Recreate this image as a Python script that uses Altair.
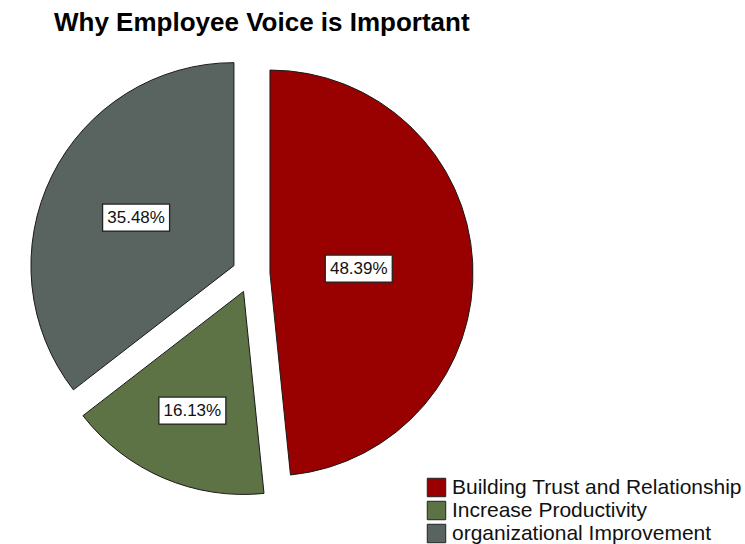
import altair as alt
import pandas as pd

# Survey answers and their shares of respondents (%)
categories = [
    "Building Trust and Relationship",
    "Increase Productivity",
    "organizational Improvement",
]
percents = [48.39, 16.13, 35.48]
colors = ["#990000", "#5d7346", "#59635f"]

# Layout (pixels)
W, H = 745, 544
CX, CY = 251, 274      # pie centre before exploding
R = 203                # pie radius
EXPLODE = 19           # distance each slice is pulled out along its bisector
BOX_W, BOX_H = 67, 27  # white label boxes
FONT = "Liberation Sans"

df = pd.DataFrame({"category": categories, "pct": percents, "order": list(range(len(categories)))})

base = (
    alt.Chart(df)
    .transform_joinaggregate(total="sum(pct)")
    .transform_window(cum="sum(pct)", sort=[alt.SortField("order")], frame=[None, 0])
    .transform_calculate(start="2*PI*(datum.cum - datum.pct)/datum.total")
    .transform_calculate(end="2*PI*datum.cum/datum.total")
    .transform_calculate(mid="(datum.start + datum.end)/2")
    .transform_calculate(span="datum.end - datum.start")
    .transform_calculate(cx=f"{CX} + {EXPLODE}*sin(datum.mid)")
    .transform_calculate(cy=f"{CY} - {EXPLODE}*cos(datum.mid)")
    # labels sit on the centroid of each slice
    .transform_calculate(cr=f"4*sin(datum.span/2)/(3*datum.span)*{R}")
    .transform_calculate(lx="datum.cx + datum.cr*sin(datum.mid)")
    .transform_calculate(ly="datum.cy - datum.cr*cos(datum.mid)")
    .transform_calculate(bx1=f"datum.lx - {BOX_W / 2}")
    .transform_calculate(bx2=f"datum.lx + {BOX_W / 2}")
    .transform_calculate(by1=f"datum.ly - {BOX_H / 2}")
    .transform_calculate(by2=f"datum.ly + {BOX_H / 2}")
    .transform_calculate(label="format(datum.pct, '.2f') + '%'")
)

color = alt.Color(
    "category:N",
    scale=alt.Scale(domain=categories, range=colors),
    sort=categories,
    legend=alt.Legend(
        title=None,
        orient="none",
        legendX=426,
        legendY=477,
        symbolType="square",
        symbolSize=340,
        symbolStrokeColor="#222222",
        symbolStrokeWidth=1,
        symbolOpacity=1,
        labelFont=FONT,
        labelFontSize=21,
        labelColor="#111111",
        labelOffset=5,
        rowPadding=0,
        labelLimit=400,
    ),
)

arcs = base.mark_arc(outerRadius=R, stroke="#1a1a1a", strokeWidth=1, opacity=1).encode(
    x=alt.X("cx:Q", scale=None, axis=None),
    y=alt.Y("cy:Q", scale=None, axis=None),
    theta=alt.Theta("start:Q", scale=None, stack=False),
    theta2="end:Q",
    color=color,
)

boxes = base.mark_rect(fill="white", stroke="#222222", strokeWidth=1.3).encode(
    x=alt.X("bx1:Q", scale=None, axis=None),
    x2="bx2:Q",
    y=alt.Y("by1:Q", scale=None, axis=None),
    y2="by2:Q",
)

texts = base.mark_text(font=FONT, fontSize=17, color="#111111", align="center", baseline="middle").encode(
    x=alt.X("lx:Q", scale=None, axis=None),
    y=alt.Y("ly:Q", scale=None, axis=None),
    text="label:N",
)

chart = (
    alt.layer(arcs, boxes, texts)
    .properties(
        width=W,
        height=H,
        autosize="none",
        padding=0,
        title=alt.Title(
            "Why Employee Voice is Important",
            anchor="start",
            frame="group",
            orient="top",
            offset=0,
            baseline="alphabetic",
            dx=54,
            dy=57,
            font=FONT,
            fontSize=26,
            fontWeight="bold",
            color="#000000",
        ),
    )
    .configure_view(stroke=None)
)

chart.save("out.html", embed_options={"renderer": "svg", "actions": False})
